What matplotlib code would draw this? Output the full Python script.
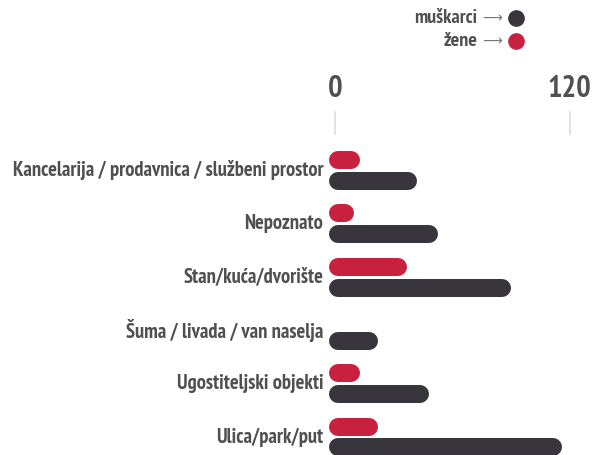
import matplotlib.pyplot as plt
from matplotlib.lines import Line2D

categories = ["Kancelarija / prodavnica / službeni prostor", "Nepoznato",
              "Stan/kuća/dvorište", "Šuma / livada / van naselja",
              "Ugostiteljski objekti", "Ulica/park/put"]
zene = [13, 10, 37, 0, 13, 22]
muskarci = [42, 53, 90, 22, 48, 116]
ticks = [0, 120]

RED = "#c8213f"
DARK = "#38353d"
GREY = "#505052"
FONT = ["PT Sans Narrow", "Roboto Condensed", "DejaVu Sans"]

W, H = 603, 455
fig = plt.figure(figsize=(W / 100, H / 100), dpi=100)
# axes: x 0 -> px 334.7, 120 -> px 569.7 ; full height
ax = fig.add_axes([334.7 / W, 0, 235 / W, 1])
ax.set_xlim(0, 120)
y0, step = 170.5, 53.3
ax.set_ylim((H - y0) / step, -y0 / step)
ax.axis("off")

px = 120 / 235.0        # data units per pixel
lw = 18 * 0.72           # bar thickness 18 px
r = 9 * px               # cap radius in data units
start = -5.4 * px + r    # bars start a bit left of zero
off = 10.5 / step

for i, (z, m) in enumerate(zip(zene, muskarci)):
    for v, dy, c in [(z, -off, RED), (m, off, DARK)]:
        if v <= 0:
            continue
        ax.plot([start, v - r], [i + dy, i + dy], color=c, lw=lw,
                solid_capstyle="round", clip_on=False)
    ax.text(-11.5 * px, i, categories[i], ha="right", va="center",
            family=FONT, weight="bold", fontsize=14.9, color=GREY)

# tick marks and labels
for t in ticks:
    ax.plot([t, t], [(112 - y0) / step, (134 - y0) / step], color="#dddddd",
            lw=1.2, clip_on=False)
    ax.text(t, (89 - y0) / step, str(t), ha="center", va="center",
            family=FONT, weight="bold", fontsize=22, color=GREY)

# legend
for yy, lab, c in [(18, "muškarci", DARK), (41, "žene", RED)]:
    fig.text(477 / W, 1 - yy / H, lab, ha="right", va="center",
             family=FONT, weight="bold", fontsize=14.5, color=GREY)
    fig.text(492 / W, 1 - yy / H, "⟶", ha="center", va="center",
             family=["DejaVu Sans"], fontsize=10, color="#777777")
    fig.add_artist(Line2D([516 / W], [1 - yy / H], marker="o", ms=11,
                          color=c, transform=fig.transFigure))

fig.savefig("out.png", dpi=100)
